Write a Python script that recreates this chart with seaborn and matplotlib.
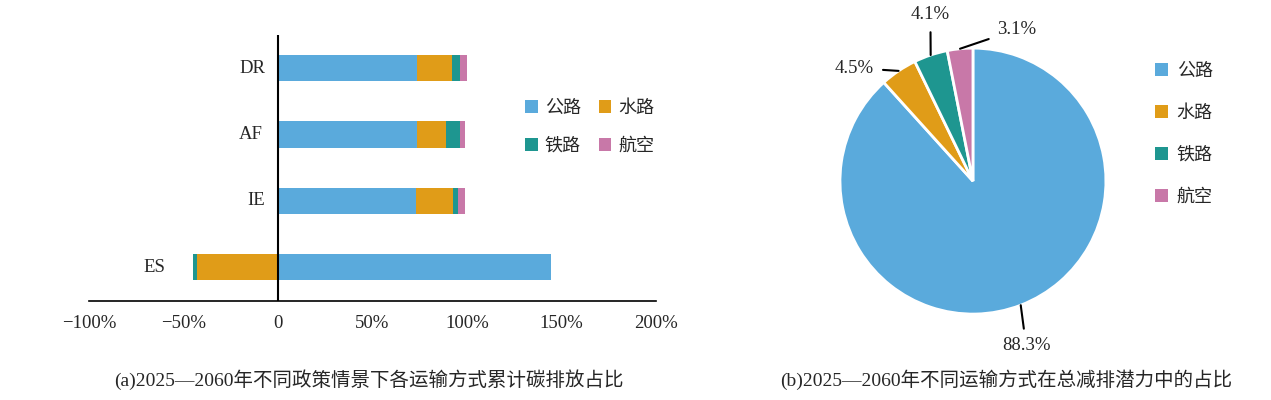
import matplotlib
matplotlib.use("Agg")
import matplotlib.pyplot as plt
import numpy as np
import pandas as pd
import seaborn as sns
from matplotlib.patches import Patch

# data
scenarios = ["DR", "AF", "IE", "ES"]
modes = ["公路", "水路", "铁路", "航空"]
road = [73.7, 73.7, 72.9, 144.6]
water = [18.2, 15.4, 19.7, -42.9]
rail = [4.2, 7.0, 2.7, -2.1]
air = [4.1, 2.6, 3.5, 0.0]

xticks = [-100, -50, 0, 50, 100, 150, 200]
xtick_labels = ["−100%", "−50%", "0", "50%", "100%", "150%", "200%"]

pie_share = [88.3, 4.5, 4.1, 3.1]
pie_labels = ["88.3%", "4.5%", "4.1%", "3.1%"]

caption_a = "(a)2025—2060年不同政策情景下各运输方式累计碳排放占比"
caption_b = "(b)2025—2060年不同运输方式在总减排潜力中的占比"

colors = ["#5AAADC", "#E09C18", "#1E9690", "#C878A8"]

sns.set_style("white")
plt.rcParams["font.family"] = ["Liberation Serif", "Noto Sans CJK SC"]
plt.rcParams["axes.unicode_minus"] = False

fig = plt.figure(figsize=(12.71, 4.0), dpi=100)

# ---- (a) stacked horizontal bars ----
ax = fig.add_axes([0.070, 0.2475, 0.4461, 0.665])

values = {"公路": road, "水路": water, "铁路": rail, "航空": air}
rows = []
for i, sc in enumerate(scenarios):
    pos, neg = 0.0, 0.0
    for m in modes:
        v = values[m][i]
        if v > 0:
            pos += v
            end = pos
        elif v < 0:
            neg += v
            end = neg
        else:
            end = 0.0
        rows.append({"scenario": sc, "mode": m, "end": end})
df = pd.DataFrame(rows)

# draw from the last mode backwards so earlier segments sit on top
for m, c in reversed(list(zip(modes, colors))):
    sub = df[df["mode"] == m]
    sns.barplot(data=sub, x="end", y="scenario", order=scenarios, orient="h",
                color=c, saturation=1, width=0.4, linewidth=0, ax=ax)

ax.axvline(0, color="black", lw=1.5, zorder=5)
ax.set_xlim(-100, 200)
ax.set_ylim(3.51, -0.5)
ax.set_xticks(xticks)
ax.set_xticklabels(xtick_labels, fontsize=13.5)
ax.tick_params(axis="x", direction="in", length=6, width=1.2, pad=10)
ax.tick_params(axis="y", left=False, labelleft=False)
ax.set_xlabel("")
ax.set_ylabel("")
for side in ["left", "top", "right"]:
    ax.spines[side].set_visible(False)
ax.spines["bottom"].set_color("black")
ax.spines["bottom"].set_linewidth(1.2)

label_pad = [9, 11, 9, 20]
for i, sc in enumerate(scenarios):
    left = min(0.0, sum(v for v in (water[i], rail[i], air[i]) if v < 0))
    ax.annotate(sc, xy=(left, i), xytext=(-label_pad[i], 0),
                textcoords="offset points", ha="right", va="center",
                fontsize=13.5)

handles = [Patch(facecolor=c, edgecolor="none") for c in colors]
# row-wise order for the two-column legend: 公路 水路 / 铁路 航空
order = [0, 2, 1, 3]
ax.legend([handles[k] for k in order], [modes[k] for k in order], ncol=2,
          loc="upper left", bbox_to_anchor=(0.753, 0.79), frameon=False,
          fontsize=13, handlelength=0.7, handleheight=0.7, handletextpad=0.4,
          columnspacing=1.0, labelspacing=1.15, borderpad=0)

# ---- (b) pie ----
ax2 = fig.add_axes([0.6295, 0.115, 0.272, 0.8645])
wedges, _ = ax2.pie(pie_share, colors=colors, startangle=90, counterclock=False,
                    wedgeprops=dict(edgecolor="white", linewidth=2))
ax2.set_xlim(-1.3, 1.3)
ax2.set_ylim(-1.3, 1.3)
ax2.set_aspect("equal")
ax2.axis("off")

label_pos = [(0.40, -1.24), (-0.89, 0.85), (-0.32, 1.25), (0.33, 1.14)]
for w, txt, pos in zip(wedges, pie_labels, label_pos):
    ang = np.deg2rad((w.theta1 + w.theta2) / 2)
    ax2.annotate(txt, xy=(np.cos(ang), np.sin(ang)), xytext=pos,
                 ha="center", va="center", fontsize=13.5,
                 arrowprops=dict(arrowstyle="-", color="black", lw=1.5,
                                 shrinkA=4, shrinkB=0),
                 annotation_clip=False)

fig.legend(handles, modes, loc="upper left",
           bbox_to_anchor=(1146 / 1271, 1 - 54 / 400), frameon=False,
           fontsize=13, handlelength=0.7, handleheight=0.7,
           handletextpad=0.5, labelspacing=1.38, borderpad=0)

fig.text(0.290, 0.05, caption_a, ha="center", va="center", fontsize=14)
fig.text(0.7915, 0.05, caption_b, ha="center", va="center", fontsize=14)

fig.savefig("out.png", dpi=100)
